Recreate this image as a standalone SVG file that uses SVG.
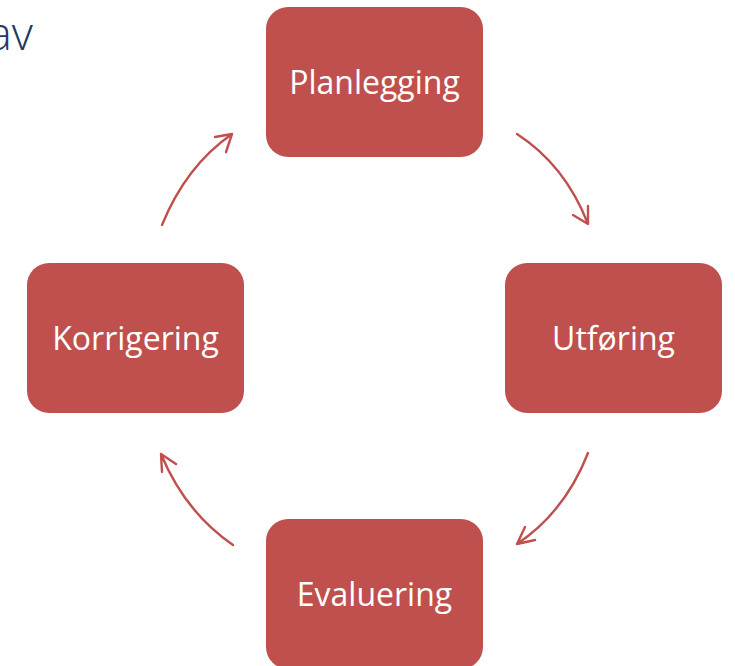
<svg xmlns="http://www.w3.org/2000/svg" width="735" height="666" viewBox="0 0 735 666">
<style>
.box{fill:#C0504D;}
.lbl{font-family:"Open Sans","Liberation Sans",sans-serif;font-size:32px;fill:#FFFFFF;text-anchor:middle;}
.arr{fill:none;stroke:#C0504D;stroke-width:2.4;stroke-linecap:round;stroke-linejoin:round;}
</style>
<rect width="735" height="666" fill="#FFFFFF"/>
<text x="33" y="50" text-anchor="end" style="font-family:'Open Sans','Liberation Sans',sans-serif;font-size:46px;font-weight:300;fill:#1F3864;">av</text>
<g id="planlegging"><rect class="box" x="266" y="7" width="217" height="150" rx="22"/><text class="lbl" x="374.5" y="94">Planlegging</text></g>
<g id="utforing"><rect class="box" x="505" y="263" width="217" height="150" rx="22"/><text class="lbl" x="613.5" y="350">Utføring</text></g>
<g id="evaluering"><rect class="box" x="266" y="519" width="217" height="150" rx="22"/><text class="lbl" x="374.5" y="606">Evaluering</text></g>
<g id="korrigering"><rect class="box" x="27" y="263" width="217" height="150" rx="22"/><text class="lbl" x="135.5" y="350">Korrigering</text></g>
<g id="connectors">
<path class="arr" d="M517,134 Q565,165 588,224 M573,215 L588,224 L588,206"/>
<path class="arr" d="M588,453 Q565,512 517,544 M525,527 L517,544 L535,540"/>
<path class="arr" d="M233,545 Q185,512 161,454 M162,472 L161,454 L176,464"/>
<path class="arr" d="M162,225 Q186,166 232,134 M215,137 L232,134 L226,152"/>
</g>
</svg>
